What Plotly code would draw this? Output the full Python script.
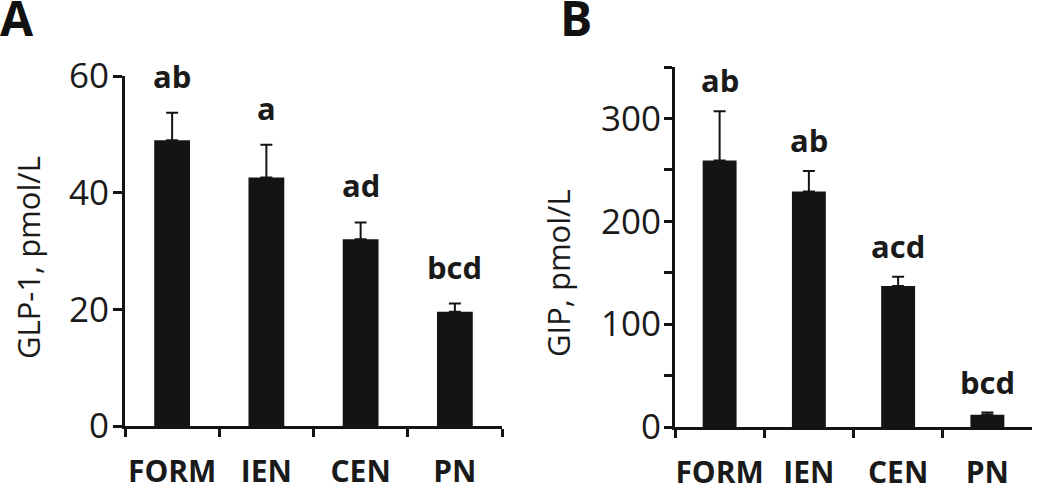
import plotly.graph_objects as go

categories = ["FORM", "IEN", "CEN", "PN"]

glp1_mean = [49.0, 42.6, 32.0, 19.6]
glp1_sem = [4.7, 5.6, 2.9, 1.4]
glp1_letters = ["ab", "a", "ad", "bcd"]

gip_mean = [259, 229, 137, 12]
gip_sem = [48, 20, 9, 2]
gip_letters = ["ab", "ab", "acd", "bcd"]

glp1_ticks = [0, 20, 40, 60]
gip_ticks = [0, 50, 100, 150, 200, 250, 300, 350]
gip_ticktext = ["0", "", "100", "", "200", "", "300", ""]

FONT = "Open Sans"
INK = "#141414"
TXT = "#1a1a1a"

fig = go.Figure()

for i, (mean, sem) in enumerate([(glp1_mean, glp1_sem), (gip_mean, gip_sem)]):
    fig.add_trace(go.Bar(
        x=categories, y=mean,
        xaxis="x" if i == 0 else "x2", yaxis="y" if i == 0 else "y2",
        marker=dict(color=INK, line=dict(width=0)),
        error_y=dict(type="data", symmetric=False, array=sem,
                     arrayminus=[0] * len(sem), color=INK, thickness=2, width=6),
        showlegend=False, hoverinfo="skip",
    ))

axis_common = dict(
    showline=True, linewidth=3, linecolor=INK, mirror=False,
    showgrid=False, zeroline=False, ticks="outside", tickwidth=3,
    tickcolor=INK, automargin=False,
)
xfont = dict(family=FONT, size=30, weight="bold", color=TXT)
yfont = dict(family=FONT, size=35, color=TXT)

fig.update_layout(
    width=1050, height=487,
    margin=dict(l=0, r=0, t=0, b=0, autoexpand=False),
    paper_bgcolor="white", plot_bgcolor="white",
    bargap=0.62,
    font=dict(family=FONT, color=TXT),
    xaxis=dict(domain=[125 / 1050, 502 / 1050], anchor="y",
               type="category", range=[-0.5, 3.5], tickson="boundaries",
               ticklen=8, ticklabelstandoff=17, tickangle=0,
               tickfont=xfont, **axis_common),
    yaxis=dict(domain=[1 - 426 / 487, 1 - 76 / 487], anchor="x",
               range=[0, 60], tickvals=glp1_ticks, ticklen=9,
               ticklabelstandoff=-3, tickfont=yfont, **axis_common),
    xaxis2=dict(domain=[675 / 1050, 1032 / 1050], anchor="y2",
                type="category", range=[-0.5, 3.5], tickson="boundaries",
                ticklen=8, ticklabelstandoff=17, tickangle=0,
                tickfont=xfont, **axis_common),
    yaxis2=dict(domain=[1 - 427 / 487, 1 - 67 / 487], anchor="x2",
                range=[0, 350], tickvals=gip_ticks, ticktext=gip_ticktext,
                ticklen=8, ticklabelstandoff=-4, tickfont=yfont, **axis_common),
)

lfont = dict(family=FONT, size=31, weight="bold", color=TXT)
annotations = []
for cat, m, s, lab in zip(categories, glp1_mean, glp1_sem, glp1_letters):
    annotations.append(dict(x=cat, y=m + s, xref="x", yref="y", text=lab,
                            showarrow=False, yanchor="bottom", yshift=14,
                            font=lfont))
for cat, m, s, lab in zip(categories, gip_mean, gip_sem, gip_letters):
    annotations.append(dict(x=cat, y=m + s, xref="x2", yref="y2", text=lab,
                            showarrow=False, yanchor="bottom", yshift=8,
                            font=lfont))

annotations += [
    dict(x=28 / 1050, y=1 - 258 / 487, xref="paper", yref="paper",
         text="GLP-1, pmol/L", textangle=-90, showarrow=False,
         xanchor="center", yanchor="middle",
         font=dict(family=FONT, size=31, color=TXT)),
    dict(x=558 / 1050, y=1 - 273 / 487, xref="paper", yref="paper",
         text="GIP, pmol/L", textangle=-90, showarrow=False,
         xanchor="center", yanchor="middle",
         font=dict(family=FONT, size=31, color=TXT)),
    dict(x=-2 / 1050, y=1 + 17 / 487, xref="paper", yref="paper",
         text="A", showarrow=False, xanchor="left", yanchor="top",
         font=dict(family=FONT, size=48, weight="bold", color="#111111")),
    dict(x=558 / 1050, y=1 + 17 / 487, xref="paper", yref="paper",
         text="B", showarrow=False, xanchor="left", yanchor="top",
         font=dict(family=FONT, size=48, weight="bold", color="#111111")),
]
fig.update_layout(annotations=annotations)

fig.write_html(
    "out.html",
    config={"displayModeBar": False},
    post_script="document.body.style.margin='0';document.body.style.padding='0';"
                "document.documentElement.style.overflow='hidden';",
)
